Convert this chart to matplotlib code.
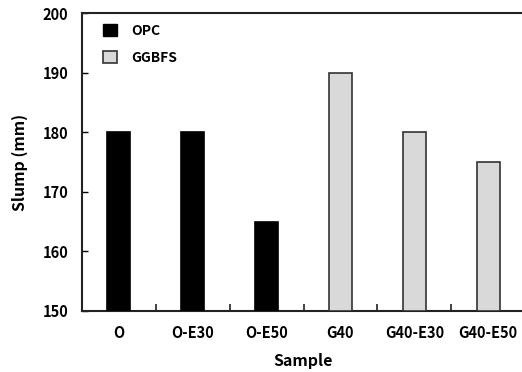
import matplotlib
matplotlib.use("Agg")
import matplotlib.pyplot as plt
from matplotlib.patches import Patch

# data
samples = ["O", "O-E30", "O-E50", "G40", "G40-E30", "G40-E50"]
slump = [180, 180, 165, 190, 180, 175]
groups = ["OPC", "OPC", "OPC", "GGBFS", "GGBFS", "GGBFS"]
group_colors = {"OPC": "black", "GGBFS": "#d9d9d9"}
group_edges = {"OPC": "black", "GGBFS": "#333333"}

plt.rcParams["font.family"] = ["Noto Sans CJK KR", "DejaVu Sans"]
plt.rcParams["font.weight"] = "bold"


def main():
    fig = plt.figure(figsize=(5.22, 3.72), dpi=100)
    ax = fig.add_axes([0.157, 0.164, 0.849, 0.801])

    xs = list(range(len(samples)))
    ax.bar(
        xs, [v - 150 for v in slump], bottom=150, width=0.31,
        color=[group_colors[g] for g in groups],
        edgecolor=[group_edges[g] for g in groups], linewidth=1.2, zorder=3
    )

    ax.set_xlim(-0.5, len(samples) - 0.5)
    ax.set_ylim(150, 200)
    ax.set_yticks([150, 160, 170, 180, 190, 200])
    ax.set_xticks(xs)
    ax.set_xticklabels(samples, fontsize=10.5, fontweight="bold")
    ax.tick_params(axis="x", length=0, pad=10)
    # minor ticks between categories, pointing in
    ax.set_xticks([x + 0.5 for x in xs[:-1]], minor=True)
    ax.tick_params(axis="x", which="minor", direction="in", length=5,
                   width=1.2, color="#222222")
    ax.tick_params(axis="y", direction="in", length=4, width=1,
                   labelsize=10.5, pad=10)
    for lab in ax.get_yticklabels():
        lab.set_fontweight("bold")

    ax.spines["right"].set_visible(False)
    for side in ("top", "left", "bottom"):
        ax.spines[side].set_linewidth(1.5)
        ax.spines[side].set_color("#222222")

    ax.set_xlabel("Sample", fontsize=11.5, fontweight="bold", labelpad=9)
    ax.set_ylabel("Slump (mm)", fontsize=11.5, fontweight="bold", labelpad=10)

    handles = [
        Patch(facecolor=group_colors["OPC"], edgecolor=group_edges["OPC"],
              label="OPC"),
        Patch(facecolor=group_colors["GGBFS"], edgecolor=group_edges["GGBFS"],
              linewidth=1.2, label="GGBFS"),
    ]
    leg = ax.legend(
        handles=handles, loc="upper left", bbox_to_anchor=(0.02, 1.005),
        frameon=False, handlelength=1.0, handleheight=1.0,
        labelspacing=0.9, handletextpad=1.0, fontsize=10
    )
    for t in leg.get_texts():
        t.set_fontweight("bold")

    fig.savefig("out.png", dpi=100)


if __name__ == "__main__":
    main()
